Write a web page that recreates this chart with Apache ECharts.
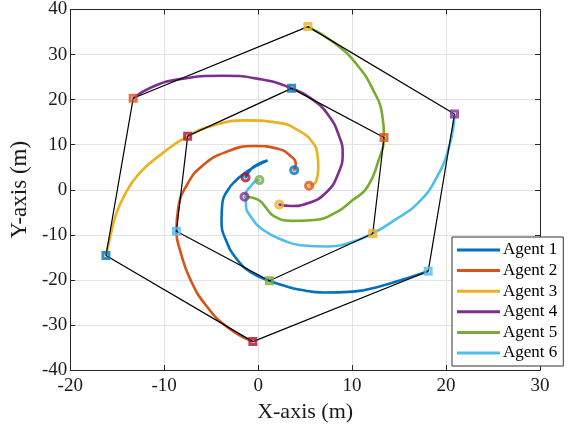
<!DOCTYPE html>
<html><head><meta charset="utf-8">
<script src="https://cdn.jsdelivr.net/npm/echarts@6/dist/echarts.min.js"></script>
<style>html,body{margin:0;padding:0;background:#fff}#c{width:572px;height:430px}</style>
</head><body><div id="c"></div><script>
const agentNames = ['Agent 1','Agent 2','Agent 3','Agent 4','Agent 5','Agent 6'];
const agentColors = ['#0072BD','#D95319','#EDB120','#7E2F8E','#77AC30','#4DBEEE'];
const darkRed = '#A2142F';

const xTicks = [-20,-10,0,10,20,30];
const yTicks = [-40,-30,-20,-10,0,10,20,30,40];

const agent1 = [[18.1,-18.1],[16.2,-19.4],[13.2,-21.3],[10.1,-22.6],[7.0,-22.8],[4.5,-22.2],[2.8,-21.3],[1.2,-20.2],[-0.7,-18.4],[-2.2,-15.6],[-3.4,-11.3],[-3.9,-6.9],[-3.8,-2.8],[-3.2,0],[-2.4,2.0],[-1.4,3.7],[-0.3,5.2],[1.0,6.5],[0.1,5.8],[-0.8,4.5],[-1.34,2.7]];
const agent2 = [[-0.56,-33.7],[-3.2,-30.6],[-5.5,-25.8],[-7.2,-20.0],[-8.3,-13.5],[-8.7,-9.2],[-8.5,-4.0],[-7.6,1.0],[-5.9,5.4],[-3.4,8.4],[-0.4,9.7],[2.1,9.1],[3.5,7.4],[4.0,5.7],[3.84,4.35]];
const agent3 = [[-16.2,-14.6],[-15.8,-11],[-15.2,-6],[-14.3,-1.5],[-12.7,3.5],[-10.3,7.9],[-7.5,11.9],[-5.0,14.1],[-1.45,15.4],[2.1,14.9],[4.5,12.9],[5.8,10.5],[6.3,8],[6.4,5],[6.2,2],[5.42,0.88]];
const agent4 = [[-13.3,20.3],[-11.4,22.7],[-8.5,24.5],[-3.6,25.3],[0.3,24.5],[3.56,22.5],[5.8,20],[7.5,16.5],[8.6,12],[9.0,8],[8.5,3.5],[7.3,-0.5],[5.3,-3.0],[3.5,-3.6],[2.25,-3.3]];
const agent5 = [[5.3,36.2],[8.1,32.6],[10.5,27.8],[12.3,21.9],[13.2,16.7],[13.4,11.6],[12.8,6.4],[11.6,0.5],[10.0,-2.4],[8.4,-4.9],[6.0,-6.7],[3.5,-6.9],[1.7,-5.9],[0.85,-4.0],[0.2,-2.5],[-0.6,-1.8],[-1.45,-1.55]];
const agent6 = [[20.9,16.8],[20.4,10.1],[19.0,2.7],[16.9,-3.2],[14.4,-6.9],[12.2,-9.7],[10.0,-11.6],[7.5,-12.6],[4.5,-12.3],[2.8,-11.3],[0.67,-9.1],[-0.74,-6.1],[-1.3,-3.2],[-1.3,-1.0],[-0.74,0.9],[-0.2,2.0],[0.14,2.14]];
const agentPaths = [agent1,agent2,agent3,agent4,agent5,agent6];

const outerHexagon = [[5.3,36.2],[20.9,16.8],[18.1,-18.1],[-0.56,-33.7],[-16.2,-14.6],[-13.3,20.3]];
const outerColors = ['#EDB120','#7E2F8E','#4DBEEE',darkRed,'#0072BD','#D95319'];
const innerHexagon = [[3.56,22.5],[13.4,11.6],[12.2,-9.7],[1.2,-20.2],[-8.7,-9.2],[-7.5,11.9]];
const innerColors = ['#0072BD','#D95319','#EDB120','#77AC30','#4DBEEE',darkRed];
const endPoints = [[-1.34,2.7],[3.84,4.35],[5.42,0.88],[2.25,-3.3],[-1.45,-1.55],[0.14,2.14]];
const endColors = [darkRed,'#0072BD','#D95319','#EDB120','#7E2F8E','#77AC30'];

const FONT = 'Liberation Serif';
const series = [];
agentPaths.forEach((p,i)=>{
  series.push({type:'line',name:agentNames[i],data:p,showSymbol:false,smooth:0.5,
    lineStyle:{width:2.6,color:agentColors[i]},itemStyle:{color:agentColors[i]},z:2,silent:true});
});
[outerHexagon,innerHexagon].forEach(h=>{
  series.push({type:'line',data:h.concat([h[0]]),showSymbol:false,
    lineStyle:{width:1.2,color:'#000'},z:3,silent:true});
});
function markers(pts,cols,sym,size){
  return {type:'scatter',silent:true,z:5,symbol:sym,symbolSize:size,
    data:pts.map((p,i)=>({value:p,itemStyle:{color:'rgba(255,255,255,0)',borderColor:cols[i],borderWidth:3}}))};
}
series.push(markers(outerHexagon,outerColors,'rect',6));
series.push(markers(innerHexagon,innerColors,'rect',6));
series.push(markers(endPoints,endColors,'circle',7));
series.push({type:'scatter',silent:true,z:6,symbol:'circle',symbolSize:2.5,
  data:agentPaths.map((p,i)=>({value:p[p.length-1],itemStyle:{color:agentColors[i]}}))});

const axisLineStyle = {show:true,onZero:false,lineStyle:{color:'#262626',width:1}};
const tickStyle = {show:true,inside:true,length:5,lineStyle:{color:'#262626'}};
const option = {
  animation:false,
  grid:{left:67,right:32,top:8,bottom:60},
  legend:{data:agentNames,orient:'vertical',left:452,top:237,icon:'rect',itemWidth:43,itemHeight:3,itemGap:0.6,
    padding:[3,6,3,5],backgroundColor:'#fff',borderColor:'#333',borderWidth:1,
    textStyle:{fontFamily:FONT,fontSize:17,lineHeight:20,color:'#000',padding:[0,0,0,-2]}},
  xAxis:[
    {type:'value',min:-20,max:30,interval:10,position:'bottom',
     axisLine:axisLineStyle,axisTick:tickStyle,
     axisLabel:{fontFamily:FONT,fontSize:19,color:'#1a1a1a',margin:7},
     splitLine:{show:true,lineStyle:{color:'#e3e3e3',width:1}},
     name:'X-axis (m)',nameLocation:'middle',nameGap:30,nameTextStyle:{fontFamily:FONT,fontSize:22,color:'#1a1a1a'}},
    {type:'value',min:-20,max:30,interval:10,position:'top',
     axisLine:axisLineStyle,axisTick:tickStyle,
     axisLabel:{show:false},splitLine:{show:false}}
  ],
  yAxis:[
    {type:'value',min:-40,max:40,interval:10,position:'left',
     axisLine:axisLineStyle,axisTick:tickStyle,
     axisLabel:{fontFamily:FONT,fontSize:19,color:'#1a1a1a',margin:3},
     splitLine:{show:true,lineStyle:{color:'#e3e3e3',width:1}},
     name:'Y-axis (m)',nameLocation:'middle',nameGap:33,nameTextStyle:{fontFamily:FONT,fontSize:23,color:'#1a1a1a'}},
    {type:'value',min:-40,max:40,interval:10,position:'right',
     axisLine:axisLineStyle,axisTick:tickStyle,
     axisLabel:{show:false},splitLine:{show:false}}
  ],
  series:series
};
echarts.init(document.getElementById('c')).setOption(option);
</script></body></html>
